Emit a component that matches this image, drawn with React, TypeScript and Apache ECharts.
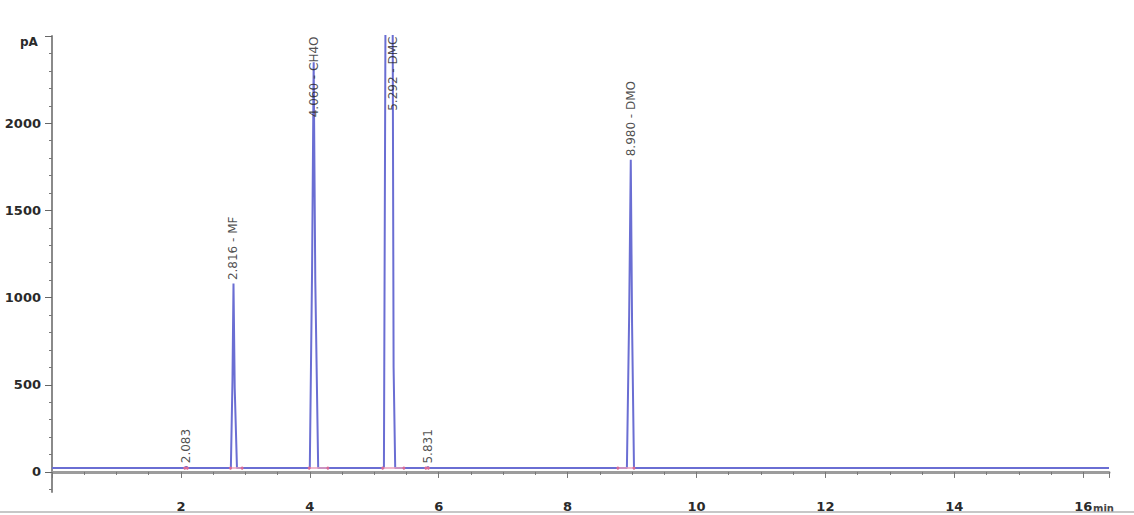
import React, { useEffect, useRef } from "react";
import * as echarts from "echarts";

// Chromatogram trace (retention time in min, signal in pA)
const rtTimes = [0, 2.06, 2.083, 2.11, 2.775, 2.8, 2.816, 2.835, 2.87, 4.0, 4.035, 4.06, 4.085, 4.13, 5.15, 5.175, 5.285, 5.3, 5.325, 5.81, 5.831, 5.85, 8.92, 8.955, 8.98, 9.0, 9.03, 16.4];
const signal = [22, 22, 30, 22, 22, 520, 1080, 480, 22, 22, 1150, 2350, 1100, 22, 22, 2700, 2700, 600, 22, 22, 28, 22, 22, 900, 1790, 850, 22, 22];

// Peak annotations
const peakTimes = [2.083, 2.816, 4.06, 5.292, 5.831, 8.98];
const peakNames = ["", "MF", "CH4O", "DMC", "", "DMO"];
const peakHeights = [30, 1080, 2350, 2700, 28, 1790];

// Integration baselines (start, end)
const intStarts = [2.06, 2.77, 3.99, 5.13, 5.8, 8.78];
const intEnds = [2.1, 2.95, 4.28, 5.46, 5.84, 9.03];
const baseLevel = 22;

// Axis ticks
const yMajor = [0, 500, 1000, 1500, 2000, 2500];
const yMinor = [-100, 100, 200, 300, 400, 600, 700, 800, 900, 1100, 1200, 1300, 1400, 1600, 1700, 1800, 1900, 2100, 2200, 2300, 2400];
const yUnit = "pA";
const xUnit = "min";

export default function App() {
  const ref = useRef<HTMLDivElement>(null);
  useEffect(() => {
    if (!ref.current) return;
    const chart = echarts.init(ref.current, undefined, { renderer: "svg" });
    const trace = rtTimes.map((t, i) => [t, signal[i]]);
    const pink: any[] = [];
    intStarts.forEach((s, i) => {
      pink.push([s, baseLevel], [intEnds[i], baseLevel], [null, null]);
    });
    const labels = peakTimes.map((t, i) => {
      const text = peakNames[i] ? `${t.toFixed(3)} - ${peakNames[i]}` : t.toFixed(3);
      const high = peakHeights[i] > 2000;
      return {
        value: [t, high ? 2500 : peakHeights[i], text],
        label: high
          ? { position: "bottom", distance: 0, align: "right" }
          : { position: "top", distance: 3, align: "left" },
      };
    });
    const axisFont = { fontFamily: "DejaVu Sans", fontWeight: "bold", fontSize: 13, color: "#2a2a2a" };
    chart.setOption({
      animation: false,
      grid: { left: 52, right: 25, top: 36, bottom: 23 },
      xAxis: {
        type: "value",
        min: 0,
        max: 16.4,
        interval: 2,
        axisLine: { show: true, lineStyle: { color: "#9c9c9c", width: 3 } },
        axisTick: { show: true, length: 6, lineStyle: { color: "#777", width: 1 } },
        minorTick: { show: true, splitNumber: 4, length: 3, lineStyle: { color: "#777" } },
        axisLabel: {
          ...axisFont,
          margin: 8,
          showMaxLabel: false,
          formatter: (v: number) => (v === 0 || v % 2 !== 0 ? "" : String(v)),
        },
        splitLine: { show: false },
      },
      yAxis: [
        {
          type: "value",
          min: -115,
          max: 2500,
          axisLine: { show: true, lineStyle: { color: "#8a8a8a", width: 2 } },
          axisTick: { show: true, length: 7, customValues: yMajor, lineStyle: { color: "#666" } },
          axisLabel: {
            ...axisFont,
            margin: 11,
            customValues: yMajor,
            formatter: (v: number) => (v === 2500 ? "" : String(v)),
          },
          splitLine: { show: false },
        },
        {
          type: "value",
          min: -115,
          max: 2500,
          position: "left",
          axisLine: { show: false },
          axisTick: { show: true, length: 3, customValues: yMinor, lineStyle: { color: "#777" } },
          axisLabel: { show: false },
          splitLine: { show: false },
        },
      ],
      series: [
        {
          type: "line",
          data: trace,
          symbol: "none",
          lineStyle: { color: "#6a6ed3", width: 2 },
          z: 2,
        },
        {
          type: "line",
          data: pink,
          connectNulls: false,
          symbol: "circle",
          symbolSize: 3,
          showSymbol: true,
          itemStyle: { color: "#d86a96" },
          lineStyle: { color: "#eaa0bc", width: 1.5 },
          z: 3,
        },
        {
          type: "scatter",
          data: labels,
          symbolSize: 1,
          itemStyle: { color: "rgba(0,0,0,0)" },
          label: {
            show: true,
            rotate: 90,
            verticalAlign: "middle",
            fontFamily: "DejaVu Sans",
            fontSize: 12,
            color: "#222",
            formatter: (p: any) => p.value[2],
          },
          z: 4,
        },
      ],
      graphic: [
        {
          type: "text",
          left: 20,
          top: 36,
          style: { text: yUnit, fontFamily: "DejaVu Sans", fontWeight: "bold", fontSize: 12, fill: "#2a2a2a" },
        },
        {
          type: "text",
          left: 1093,
          top: 503,
          style: { text: xUnit, fontFamily: "DejaVu Sans", fontWeight: "bold", fontSize: 10, fill: "#444" },
        },
        {
          type: "line",
          shape: { x1: 0, y1: 512, x2: 1134, y2: 512 },
          style: { stroke: "#b5b5b5", lineWidth: 1.5 },
        },
      ],
    });
    return () => chart.dispose();
  }, []);
  return <div ref={ref} style={{ position: "fixed", left: 0, top: 0, width: 1134, height: 515, background: "#fff" }} />;
}
